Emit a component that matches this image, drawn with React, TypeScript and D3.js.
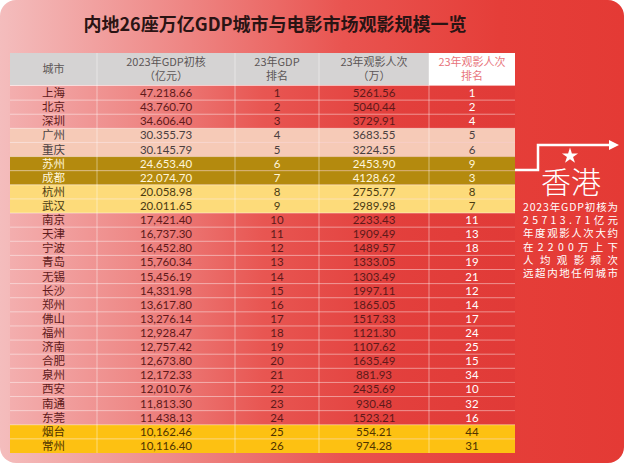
import React from "react";
import * as d3 from "d3";

const cities = ["上海", "北京", "深圳", "广州", "重庆", "苏州", "成都", "杭州", "武汉", "南京", "天津", "宁波", "青岛", "无锡", "长沙", "郑州", "佛山", "福州", "济南", "合肥", "泉州", "西安", "南通", "东莞", "烟台", "常州"];
const gdp = ["47.218.66", "43.760.70", "34.606.40", "30.355.73", "30.145.79", "24.653.40", "22.074.70", "20.058.98", "20.011.65", "17,421.40", "16,737.30", "16,452.80", "15,760.34", "15,456.19", "14,331.98", "13,617.80", "13,276.14", "12,928.47", "12,757.42", "12,673.80", "12,172.33", "12,010.76", "11,813.30", "11.438.13", "10,162.46", "10,116.40"];
const gdpRank = [1, 2, 3, 4, 5, 6, 7, 8, 9, 10, 11, 12, 13, 14, 15, 16, 17, 18, 19, 20, 21, 22, 23, 24, 25, 26];
const audience = ["5261.56", "5040.44", "3729.91", "3683.55", "3224.55", "2453.90", "4128.62", "2755.77", "2989.98", "2233.43", "1909.49", "1489.57", "1333.05", "1303.49", "1997.11", "1865.05", "1517.33", "1121.30", "1107.62", "1635.49", "881.93", "2435.69", "930.48", "1523.21", "554.21", "974.28"];
const audienceRank = [1, 2, 4, 5, 6, 9, 3, 8, 7, 11, 13, 18, 19, 21, 12, 14, 17, 24, 25, 15, 34, 10, 32, 16, 44, 31];
const rowGroup = ["red", "red", "red", "peach", "peach", "gold", "gold", "yellow", "yellow", "red", "red", "red", "red", "red", "red", "red", "red", "red", "red", "red", "red", "red", "red", "red", "orange", "orange"];
const headers = [["城市"], ["2023年GDP初核", "（亿元）"], ["23年GDP", "排名"], ["23年观影人次", "（万）"], ["23年观影人次", "排名"]];
const hkLines = ["2023年GDP初核为", "25713.71亿元", "年度观影人次大约", "在2200万上下", "人均观影频次", "远超内地任何城市"];

const title = "内地26座万亿GDP城市与电影市场观影规模一览";

const W = 627;
const H = 468;
const colEdges = [10, 97, 235, 319, 429, 515];
const headTop = 53;
const headBottom = 85;
const tableBottom = 453;

const groupFill: Record<string, string> = {
  red: "url(#rowRed)",
  peach: "#f6cab7",
  gold: "#b48a0e",
  yellow: "#fddb7a",
  orange: "#fdc112",
};
const groupText: Record<string, string> = {
  red: "#5e1a1a",
  peach: "#4a4040",
  gold: "#fff6dc",
  yellow: "#4a3a12",
  orange: "#4f3300",
};

const font = "Lato, 'Noto Sans CJK SC', sans-serif";
const cjk = "'Noto Sans CJK SC', sans-serif";

export default function App() {
  const y = d3.scaleBand<string>().domain(cities).range([headBottom + 1, tableBottom]);
  const colCenter = (i: number) => (colEdges[i] + colEdges[i + 1]) / 2;
  const lineY = d3.scaleLinear().domain([0, hkLines.length - 1]).range([207, 273]);
  const star = d3.symbol(d3.symbolStar).size(80)();

  return (
    <svg width={W} height={H} style={{ position: "absolute", left: 0, top: 0 }} fontFamily={font}>
      <defs>
        <linearGradient id="card" x1="0" x2="1" y1="0" y2="0">
          <stop offset="0" stopColor="#f4bdbd" />
          <stop offset="0.3" stopColor="#ee8583" />
          <stop offset="0.55" stopColor="#e95450" />
          <stop offset="0.8" stopColor="#e53e39" />
          <stop offset="1" stopColor="#e43a35" />
        </linearGradient>
        <linearGradient id="rowRed" gradientUnits="userSpaceOnUse" x1={colEdges[0]} x2={colEdges[5]} y1="0" y2="0">
          <stop offset="0" stopColor="#f3aeae" />
          <stop offset="0.25" stopColor="#ee8886" />
          <stop offset="0.5" stopColor="#e85652" />
          <stop offset="0.75" stopColor="#e3403d" />
          <stop offset="1" stopColor="#e13a37" />
        </linearGradient>
      </defs>
      <rect x={0} y={0} width={W} height={H} fill="#ffffff" />
      <rect x={0} y={0} width={624} height={463} rx={16} fill="url(#card)" />

      <text x={275} y={31} textAnchor="middle" fontSize={18} fontWeight="bold" fill="#2a1414" fontFamily={cjk}>
        {title}
      </text>

      {/* header */}
      <rect x={colEdges[0]} y={headTop} width={colEdges[4] - colEdges[0]} height={headBottom - headTop} fill="#d5d3d3" />
      <rect x={colEdges[4]} y={headTop} width={colEdges[5] - colEdges[4]} height={headBottom - headTop} fill="#ffffff" />
      {headers.map((lines, i) =>
        lines.map((t, j) => (
          <text
            key={`${i}-${j}`}
            x={colCenter(i)}
            y={lines.length === 1 ? 73 : 66 + j * 14}
            textAnchor="middle"
            fontSize={11}
            fill={i === 4 ? "#e8757c" : "#5c5656"}
            fontFamily={cjk}
          >
            {t}
          </text>
        ))
      )}

      {/* rows */}
      {cities.map((c, i) => {
        const g = rowGroup[i];
        const yy = y(c)!;
        const cy = yy + y.bandwidth() / 2 + 4;
        const col = groupText[g];
        const lastCol = g === "red" ? "#ffffff" : col;
        return (
          <g key={c}>
            <rect x={colEdges[0]} y={yy} width={colEdges[5] - colEdges[0]} height={y.bandwidth()} fill={groupFill[g]} />
            <text x={colCenter(0)} y={cy} textAnchor="middle" fontSize={11.5} fill={col} fontFamily={cjk}>{c}</text>
            <text x={colCenter(1)} y={cy} textAnchor="middle" fontSize={11.5} fill={col}>{gdp[i]}</text>
            <text x={colCenter(2)} y={cy} textAnchor="middle" fontSize={11.5} fill={col}>{gdpRank[i]}</text>
            <text x={colCenter(3)} y={cy} textAnchor="middle" fontSize={11.5} fill={col}>{audience[i]}</text>
            <text x={colCenter(4)} y={cy} textAnchor="middle" fontSize={11.5} fill={lastCol}>{audienceRank[i]}</text>
          </g>
        );
      })}

      {/* grid lines */}
      {cities.slice(1).map((c) => (
        <line key={`h-${c}`} x1={colEdges[0]} x2={colEdges[5]} y1={y(c)!} y2={y(c)!} stroke="#ffffff" strokeOpacity={0.55} strokeWidth={0.8} />
      ))}
      <line x1={colEdges[0]} x2={colEdges[5]} y1={headBottom + 0.5} y2={headBottom + 0.5} stroke="#ffffff" strokeOpacity={0.6} strokeWidth={1} />
      {colEdges.slice(1, 5).map((x) => (
        <line key={`v-${x}`} x1={x} x2={x} y1={headTop} y2={tableBottom} stroke="#ffffff" strokeOpacity={0.55} strokeWidth={0.8} />
      ))}

      {/* Hong Kong note */}
      <path d="M515,170 H538 V145 H610" fill="none" stroke="#ffffff" strokeWidth={2.5} />
      <path d="M609,140 L619,145 L609,150 Z" fill="#ffffff" />
      <path d={star!} transform="translate(570,156)" fill="#ffffff" />
      <text x={571} y={193} textAnchor="middle" fontSize={30} fontWeight={300} fill="#ffffff" fontFamily={cjk}>
        香港
      </text>
      {hkLines.map((t, i) => (
        <text
          key={t}
          x={523}
          y={lineY(i) + 4}
          fontSize={10.5}
          fill="#ffffff"
          textLength={95}
          lengthAdjust="spacing"
          fontFamily={cjk}
        >
          {t}
        </text>
      ))}
    </svg>
  );
}
